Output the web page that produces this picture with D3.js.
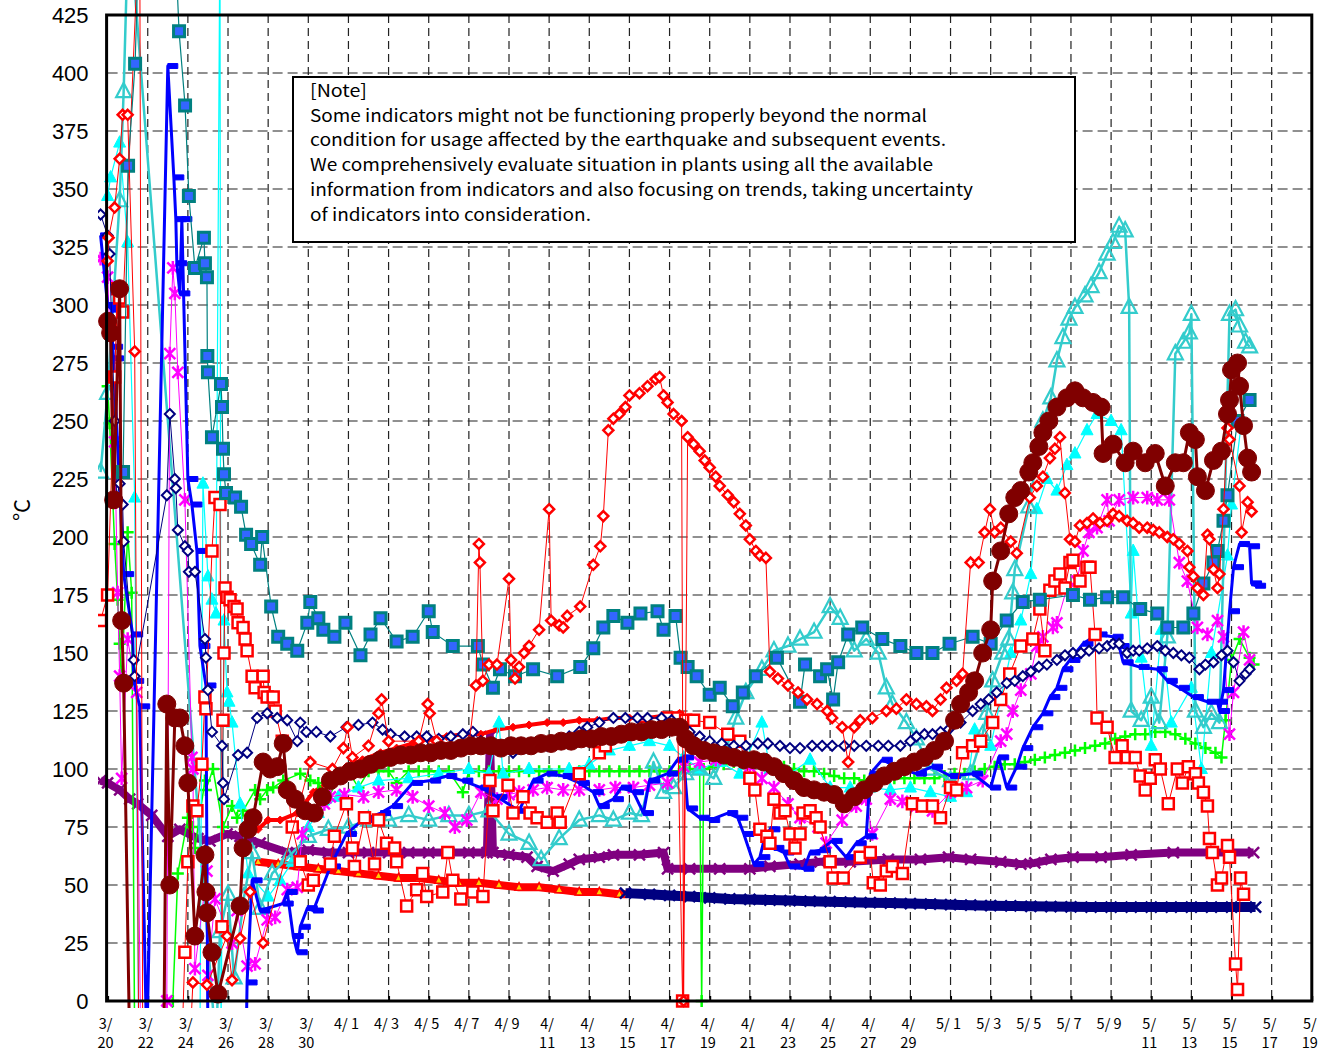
<!DOCTYPE html>
<html>
<head>
<meta charset="utf-8">
<title>Temperature trend</title>
<script src="https://cdn.jsdelivr.net/npm/d3@7"></script>
<style>
  body { margin: 0; background: #fff; }
  svg text { font-family: "Noto Sans CJK JP", "Noto Sans", sans-serif; fill: #000; }
</style>
</head>
<body>
<script>

// every point: [days after 3/20, temperature in °C]
const sqTeal = [[0.77,228],[1.02,360],[1.37,404],[1.6,470],[3.3,470],[3.56,418],[3.86,386],[4.05,347],[4.35,316],[4.8,329],[4.85,318],[4.95,312],[4.97,278],[5.0,271],[5.2,243],[5.65,266],[5.7,256],[5.75,238],[5.8,227],[5.9,219],[6.35,217],[6.65,213],[6.9,201],[7.15,197],[7.6,188],[7.7,200],[8.15,170],[8.5,157],[8.95,154],[9.45,151],[9.95,163],[10.1,172],[10.5,165],[10.75,160],[11.3,157],[11.85,163],[12.6,149],[13.1,158],[13.6,165],[14.4,155],[15.2,157],[16.0,168],[16.2,159],[17.2,153],[18.45,153],[18.7,145],[19.2,135],[19.55,143],[20.3,140],[21.2,143],[22.4,140],[23.55,144],[24.2,152],[24.7,161],[25.2,166],[25.9,163],[26.55,167],[27.4,168],[27.7,160],[28.3,166],[28.55,148],[28.9,144],[29.35,140],[30.0,132],[30.5,135],[31.15,127],[31.65,133],[32.3,140],[33.35,148],[34.5,129],[34.75,145],[35.5,140],[35.85,143],[36.15,130],[36.4,146],[36.9,158],[37.6,161],[38.6,156],[39.5,153],[40.3,150],[41.1,150],[41.95,154],[43.1,157],[44.0,154],[44.8,164],[45.6,172],[46.45,173],[48.1,175],[48.95,173],[49.8,174],[50.6,174],[51.45,169],[52.3,167],[52.8,161],[53.6,161],[54.1,167],[54.6,180],[55.1,189],[55.3,194],[55.6,207],[55.8,218],[56.3,250],[56.9,259]]

const triOpen = [[-0.35,228],[0,262],[0.6,345],[0.8,392],[1.05,470],[5.4,-20],[5.6,30],[6.0,46],[6.3,10],[6.8,45],[7.2,64],[7.6,40],[8.2,55],[9.0,62],[10.0,71],[11.0,74],[12.0,75],[13.0,78],[14.0,78],[15.0,80],[16.0,78],[17.0,80],[18.0,80],[19.0,82],[20.0,72],[21.0,68],[21.6,61],[22.5,70],[23.5,78],[24.5,80],[25.2,78],[26.0,81],[26.6,80],[27.2,103],[27.7,90],[28.2,92],[28.8,98],[29.5,100],[30.2,96],[30.8,108],[31.3,122],[31.8,133],[32.6,143],[33.2,151],[33.9,153],[34.5,156],[35.2,159],[36.0,170],[36.5,165],[37.2,151],[37.8,156],[38.4,150],[38.8,135],[39.1,128],[39.8,120],[40.3,113],[41.0,100],[42.0,95],[43.0,98],[43.6,115],[43.8,124],[44.1,138],[44.6,150],[44.9,156],[45.1,176],[45.2,186],[45.9,213],[46.6,250],[47.0,260],[47.3,276],[47.6,286],[47.9,294],[48.2,299],[48.7,304],[49.0,308],[49.4,314],[49.8,322],[50.1,327],[50.4,334],[50.7,332],[50.9,299],[51.0,125],[51.5,121],[52.0,131],[52.4,120],[52.8,157],[53.2,279],[53.6,284],[53.9,288],[54.0,296],[54.2,125],[54.6,118],[55.0,124],[55.4,120],[55.9,296],[56.2,298],[56.4,291],[56.7,284],[56.9,282]]

const triCyan = [[0,347],[0.15,355],[0.6,370],[1.0,327],[1.35,217],[1.55,-20],[4.6,-20],[4.75,223],[5.0,183],[5.2,173],[5.4,167],[5.6,470],[5.65,-20],[5.8,164],[5.95,133],[6.05,129],[6.2,120],[6.6,85],[7.0,55],[8.0,45],[8.6,52],[9.2,60],[10.0,75],[10.5,81],[11.5,88],[12.5,92],[13.5,95],[15,96],[16.5,98],[18,100],[19,98],[19.5,120],[19.7,98],[21,100],[23,100],[24,102],[25,108],[26,110],[27,112],[28,110],[28.7,105],[29.5,100],[30.5,103],[31.5,98],[32.6,120],[33,100],[34,98],[35,104],[36,92],[37,92],[38,92],[39,91],[40,92],[41,90],[42,88],[42.8,90],[43.2,117],[44,110],[44.5,130],[45,150],[45.5,164],[46,184],[46.3,212],[46.8,225],[47.3,220],[47.8,231],[48.2,236],[48.8,246],[49.3,253],[50,250],[50.5,246],[51,167],[51.1,194],[51.5,148],[52,110],[52.5,160],[53,120],[54,135],[54.5,100],[55,150],[55.8,192],[56,214],[56.5,250]]

const circRed = [[0,293],[0.15,288],[0.3,216],[0.6,307],[0.7,164],[0.8,137],[1.1,-20],[2.8,-20],[2.95,128],[3.1,50],[3.35,122],[3.6,122],[3.85,110],[4.0,94],[4.35,28],[4.85,63],[4.9,47],[4.95,38],[5.2,21],[5.5,3],[6.6,41],[6.75,66],[7.0,74],[7.25,79],[7.75,103],[8.1,100],[8.45,101],[8.75,111],[8.95,91],[9.35,87],[9.85,82],[10.3,81],[10.7,88],[11.1,95],[11.6,97],[12.1,99],[12.6,100],[13.1,102],[13.6,104],[14.1,105],[14.6,106],[15.1,106],[15.6,107],[16.1,107],[16.6,108],[17.1,108],[17.6,109],[18.1,110],[18.6,110],[19.1,110],[19.6,109],[20.1,110],[20.6,110],[21.1,110],[21.6,111],[22.1,111],[22.6,112],[23.1,112],[23.6,113],[24.1,113],[24.6,114],[25.1,114],[25.6,115],[26.1,116],[26.6,116],[27.1,117],[27.6,117],[28.1,118],[28.5,118],[28.8,113],[29.2,110],[29.7,108],[30.2,107],[30.7,106],[31.2,105],[31.7,104],[32.2,104],[32.7,103],[33.2,101],[33.7,98],[34.2,95],[34.7,92],[35.2,91],[35.7,90],[36.2,89],[36.7,85],[37.2,88],[37.7,91],[38.2,94],[38.7,97],[39.2,99],[39.7,101],[40.2,103],[40.7,105],[41.2,108],[41.7,112],[42.2,121],[42.5,128],[42.9,133],[43.2,138],[43.6,150],[44.0,160],[44.1,181],[44.5,194],[44.9,210],[45.2,217],[45.5,220],[45.9,228],[46.1,232],[46.4,239],[46.6,245],[46.9,250],[47.3,256],[47.8,260],[48.2,263],[48.6,260],[49.1,258],[49.5,256],[49.6,236],[50.1,240],[50.7,232],[51.1,237],[51.7,232],[52.2,236],[52.7,222],[53.2,232],[53.6,232],[53.9,245],[54.2,242],[54.3,226],[54.7,220],[55.1,233],[55.5,237],[55.8,253],[55.9,259],[56.0,272],[56.3,275],[56.4,265],[56.6,248],[56.8,234],[57.0,228]]

const diamNavy = [[-0.35,339],[0,330],[0.1,322],[0.35,250],[0.45,217],[0.6,223],[0.75,214],[0.8,198],[1.3,147],[1.35,140],[2.95,218],[3.1,253],[3.35,225],[3.4,221],[3.5,203],[3.85,196],[4.0,194],[4.05,185],[4.35,185],[4.85,156],[4.9,148],[5.0,134],[5.2,116],[5.7,110],[5.75,94],[5.8,87],[6.5,106],[6.95,107],[7.45,122],[7.95,124],[8.45,122],[8.95,121],[9.45,112],[9.6,120],[9.9,116],[10.4,116],[11.1,114],[11.9,118],[12.5,119],[13.2,120],[13.7,117],[14.1,115],[14.8,114],[15.4,114],[15.9,114],[16.0,107],[16.5,113],[17.1,114],[17.7,115],[18.2,116],[18.6,112],[19.2,111],[19.9,110],[20.2,107],[20.8,109],[21.3,110],[21.9,110],[22.5,112],[23.0,114],[23.5,116],[23.9,118],[24.5,120],[25.2,122],[25.8,122],[26.4,122],[26.9,122],[27.6,122],[28.1,121],[28.5,118],[29.0,116],[29.5,114],[30.0,112],[30.6,111],[31.2,110],[31.8,110],[32.4,111],[32.9,111],[33.5,110],[34.0,109],[34.5,109],[35.1,110],[35.6,110],[36.1,110],[36.7,110],[37.2,110],[37.8,110],[38.4,110],[38.9,110],[39.5,110],[40.0,112],[40.3,114],[40.7,115],[41.1,115],[41.5,116],[41.9,117],[42.5,120],[43.1,125],[43.5,128],[43.9,130],[44.3,133],[44.8,137],[45.2,138],[45.6,140],[46.0,142],[46.4,144],[46.8,145],[47.3,147],[47.7,149],[48.1,150],[48.5,150],[48.9,151],[49.4,152],[49.8,153],[50.1,154],[50.4,154],[50.8,150],[51.1,151],[51.4,151],[51.8,152],[52.3,153],[52.7,151],[53.1,150],[53.5,149],[53.9,148],[54.4,143],[54.7,145],[55.1,146],[55.5,149],[55.8,151],[56.1,146],[56.4,138],[56.7,141],[56.9,143]]

const triRed = [[7.5,60],[8.5,59],[9.5,58],[10.5,57],[11.5,56],[12.5,55],[13.5,54],[14.5,53],[15.5,53],[16.5,52],[17.5,51],[18.5,51],[19.5,50],[20.5,49],[21.5,49],[22.5,48],[23.5,47],[24.5,47],[25.5,46],[25.9,46]]

const xNavy = [[25.8,46.5],[27,46],[28,45.5],[29,45],[30,44.5],[31,44],[32,43.8],[33,43.5],[34,43.3],[35,43],[36,42.8],[37,42.6],[38,42.4],[39,42.2],[40,42],[41,41.8],[42,41.5],[43,41.3],[44,41.1],[45,41],[46,40.8],[47,40.7],[48,40.6],[49,40.5],[50,40.5],[51,40.5],[52,40.5],[53,40.5],[54,40.5],[55,40.5],[56,40.5],[57.2,40.5]]

const xPurple = [[-0.35,95],[0,94],[0.6,91],[1.1,87],[1.5,85],[2.2,80],[3.0,71],[3.6,74],[4.5,70],[5.1,69],[5.95,72],[6.6,71],[7.6,68],[8.95,64],[10,65],[11,64],[12,64],[13,64],[14,64],[15,64],[16,64],[17,64],[18,64],[18.9,64],[19.05,114],[19.2,64],[20,63],[20.9,62],[21.4,58],[22.2,56],[23,59],[23.5,61],[24.5,62],[25.2,63],[26.5,63],[27.7,64],[27.9,57],[29,57],[30.5,57],[32,57],[33,58],[34.5,59],[35.5,60],[37,60],[38.9,61],[40.5,61],[41.9,62],[43,61],[44.5,60],[45.5,59],[46.2,59.5],[47,61],[48.1,62],[49.5,62],[51,63],[53.1,64],[55,64],[57.1,64]]

const plusGreen = [[0,265],[0.1,249],[0.35,197],[0.5,173],[0.6,154],[0.7,137],[1.0,202],[1.2,176],[1.35,-20],[3.15,-20],[3.25,0],[3.5,55],[4.0,79],[4.25,75],[4.35,66],[4.85,95],[4.9,91],[5.25,100],[5.75,75],[6.2,84],[6.45,79],[6.75,82],[7.35,91],[7.6,87],[7.95,91],[8.25,92],[8.75,95],[9.6,98],[10.1,95],[10.5,94],[11.0,87],[11.5,97],[12.0,99],[12.5,92],[13.0,99],[13.5,99],[14.0,99],[14.4,94],[15.0,99],[15.5,99],[16.0,99],[16.5,99],[17.0,99],[17.7,90],[18.0,99],[18.5,99],[19,99],[19.5,99],[20,99],[20.5,99],[21,99],[21.5,99],[22,99],[22.5,99],[23,99],[23.5,99],[24,99],[24.5,99],[25,99],[25.5,99],[26,99],[26.5,99],[27,99],[27.5,99],[28,99],[28.5,99],[29,100],[29.5,100],[29.6,0],[29.7,100],[30.2,101],[30.7,102],[31.2,103],[31.7,104],[32.2,104],[32.7,103],[33.2,102],[33.7,101],[34.2,100],[34.7,99],[35.2,99],[35.7,98],[36.2,97],[36.7,96],[37.2,96],[37.7,95],[38.2,95],[38.7,96],[39.2,96],[39.7,96],[40.2,96],[40.7,96],[41.2,96],[41.7,97],[42.2,98],[42.7,98],[43.2,99],[43.7,100],[44.2,101],[44.7,102],[45.2,102],[45.7,103],[46.2,104],[46.7,105],[47.2,106],[47.7,107],[48.2,108],[48.7,109],[49.2,110],[49.7,111],[50.2,113],[50.7,114],[51.2,115],[51.7,115],[52.2,116],[52.7,116],[53.2,115],[53.7,113],[54.2,111],[54.7,109],[55.2,107],[55.5,105],[55.7,121],[56.0,147],[56.4,156],[56.9,148],[57.1,145]]

const starMag = [[-0.35,320],[0,312],[0.35,241],[0.5,176],[0.6,140],[0.7,96],[1.0,156],[1.45,133],[1.65,-20],[2.85,-20],[2.95,0],[3.1,279],[3.25,316],[3.35,305],[3.5,271],[3.85,216],[4.2,105],[4.25,100],[4.35,14],[4.95,56],[5.0,11],[5.35,44],[6.2,25],[6.45,39],[6.95,15],[7.35,16],[7.95,35],[8.35,36],[8.95,48],[9.45,49],[9.7,72],[10.3,81],[10.8,85],[11.1,88],[11.8,89],[12.75,88],[13.5,90],[14.4,91],[15.2,88],[16.0,84],[16.8,81],[17.3,75],[17.9,78],[18.6,90],[19.4,87],[20.0,89],[20.5,90],[21.2,91],[21.9,92],[22.7,91],[23.5,91],[24.5,91],[25.3,92],[26.2,92],[27.0,93],[27.9,94],[28.7,101],[29.5,103],[30.3,104],[31.2,104],[32.0,101],[32.6,96],[33.2,92],[33.9,85],[34.5,79],[35.4,75],[35.8,68],[36.6,78],[37.3,84],[37.8,87],[38.1,72],[39.0,87],[39.6,86],[40.3,84],[41.1,82],[42.0,90],[42.8,92],[43.6,95],[44.5,112],[44.8,115],[45.1,125],[45.5,134],[46.0,141],[46.3,153],[46.6,157],[47.1,161],[47.3,163],[47.8,178],[48.3,181],[48.6,194],[48.9,202],[49.3,204],[49.8,216],[49.9,207],[50.4,216],[51.1,217],[51.8,217],[52.3,216],[52.9,216],[53.4,189],[53.8,181],[54.3,161],[54.8,158],[55.3,164],[55.6,157],[55.9,115],[56.1,133],[56.6,159],[56.9,147]]

const dashBlue = [[-0.35,330],[0,300],[0.2,298],[0.25,282],[0.3,277],[0.8,184],[1.25,158],[1.3,138],[1.6,127],[1.95,-20],[3.0,403],[3.3,355],[3.4,337],[3.45,318],[3.6,305],[3.7,337],[4.0,225],[4.2,214],[4.45,194],[4.6,153],[4.9,136],[5.0,-20],[6.9,-20],[6.95,8],[7.2,52],[7.6,39],[8.75,42],[8.95,47],[9.25,28],[9.45,21],[9.6,32],[9.95,40],[10.25,39],[11.1,58],[11.9,72],[12.7,78],[13.6,81],[14.2,84],[15.2,94],[16.1,95],[16.9,97],[17.7,95],[18.6,92],[19.4,88],[20.5,82],[21.2,95],[21.9,98],[22.7,97],[23.5,94],[24.2,90],[24.5,84],[25.2,87],[25.6,92],[26.2,90],[26.7,81],[27.0,95],[27.9,98],[28.4,104],[28.7,105],[28.9,83],[29.5,79],[30.0,78],[30.9,81],[31.4,79],[31.7,72],[32.2,59],[32.5,62],[32.7,69],[33.0,74],[33.2,66],[33.7,64],[34.0,58],[34.7,57],[35.0,64],[35.5,65],[36.1,69],[36.8,62],[37.3,68],[37.8,71],[38.0,98],[38.6,104],[39.5,100],[40.3,98],[41.1,101],[42.0,97],[43.1,98],[44.0,92],[44.4,105],[44.8,92],[45.3,101],[45.6,109],[46.1,118],[46.6,124],[46.95,131],[47.3,135],[47.6,143],[47.95,147],[48.6,154],[49.3,158],[50.1,157],[50.4,153],[50.6,146],[51.4,144],[52.3,143],[52.8,138],[53.4,135],[54.1,131],[54.8,129],[55.3,129],[55.4,125],[55.6,134],[55.9,168],[56.1,187],[56.4,197],[56.9,196],[57.0,180],[57.2,179]]

const sqRed = [[-0.35,164],[0,175],[0.35,269],[0.5,307],[0.6,303],[0.75,297],[1.6,470],[1.75,-20],[3.7,-20],[3.85,21],[4.0,60],[4.25,84],[4.45,82],[4.7,102],[4.85,131],[4.9,126],[5.2,194],[5.35,217],[5.6,214],[5.7,32],[5.75,121],[5.8,150],[5.85,178],[5.95,174],[6.1,173],[6.3,170],[6.45,169],[6.5,163],[6.75,161],[6.85,156],[6.95,151],[7.2,140],[7.35,135],[7.75,140],[7.8,133],[7.95,131],[8.25,131],[8.35,125],[8.7,112],[9.2,75],[9.6,60],[10.0,50],[10.25,52],[11.1,59],[11.3,71],[11.9,85],[12.2,66],[12.3,58],[12.8,79],[13.3,59],[13.5,78],[13.9,68],[14.3,66],[14.4,60],[14.9,41],[15.4,48],[15.7,55],[15.9,45],[16.7,47],[16.95,64],[17.2,52],[17.6,44],[18.2,47],[18.7,45],[19.05,95],[19.2,82],[19.95,93],[20.2,81],[20.7,88],[21.05,81],[21.4,79],[21.9,77],[22.4,81],[22.55,77],[23.5,98],[24.5,107],[24.8,110],[25.3,114],[25.9,115],[26.7,118],[27.9,122],[28.4,122],[28.65,0],[28.8,121],[29.2,121],[30.0,120],[30.9,115],[31.5,112],[32.0,96],[32.25,91],[32.5,74],[32.85,71],[33.0,68],[33.2,87],[33.5,81],[33.75,82],[34.0,72],[34.25,66],[34.5,72],[34.65,81],[35.0,82],[35.3,79],[35.5,75],[36.0,60],[36.15,53],[36.65,53],[37.5,62],[38.0,64],[38.15,51],[38.5,50],[38.8,56],[39.1,58],[39.6,55],[40.1,85],[40.6,84],[41.1,84],[41.5,79],[42.0,92],[42.3,91],[42.6,107],[43.1,110],[43.5,112],[44.1,120],[44.5,130],[44.95,141],[45.5,153],[46.1,156],[46.45,169],[46.7,151],[46.95,177],[47.2,181],[47.45,184],[47.7,178],[47.95,189],[48.1,190],[48.45,181],[48.8,187],[48.95,187],[49.2,158],[49.3,122],[49.8,118],[50.2,105],[50.55,110],[50.8,105],[51.2,105],[51.45,97],[51.7,91],[51.95,96],[52.2,104],[52.45,100],[52.85,85],[53.3,100],[53.55,94],[53.85,101],[54.2,98],[54.35,94],[54.6,90],[54.8,84],[54.9,70],[55.05,64],[55.3,50],[55.5,53],[55.8,67],[55.9,62],[56.2,16],[56.3,5],[56.45,53],[56.6,46]]

const diamRed = [[0,319],[0.05,329],[0.35,342],[0.6,363],[0.75,382],[1.0,382],[1.35,280],[1.55,-20],[4.1,-20],[4.25,8],[4.95,7],[5.95,28],[6.2,9],[6.6,27],[7.1,47],[7.75,25],[10.1,103],[11.2,100],[11.75,109],[11.95,118],[12.2,105],[13.0,110],[13.5,124],[13.65,130],[14.0,112],[15.5,112],[15.95,128],[16.05,124],[16.4,112],[18.0,110],[18.35,136],[18.5,197],[18.55,189],[18.7,138],[19.0,145],[19.4,145],[20.0,182],[20.1,147],[20.3,139],[20.5,144],[20.75,150],[21.0,153],[21.5,160],[22.0,212],[22.1,164],[22.5,162],[22.7,161],[22.9,166],[23.55,170],[24.2,188],[24.55,196],[24.7,209],[24.95,246],[25.2,251],[25.5,253],[25.8,256],[26.0,261],[26.5,262],[26.9,265],[27.3,268],[27.5,269],[27.7,261],[27.9,258],[28.2,253],[28.6,250],[28.7,0],[28.9,243],[29.2,240],[29.5,237],[29.75,233],[30.0,230],[30.3,226],[30.5,222],[30.9,218],[31.2,215],[31.5,210],[31.8,205],[32.0,199],[32.3,194],[32.5,192],[32.8,191],[33.0,142],[33.4,139],[33.9,136],[34.4,133],[34.85,130],[35.35,128],[35.85,125],[36.1,122],[36.6,118],[36.9,103],[37.2,118],[37.5,121],[38.1,122],[38.8,125],[39.3,126],[39.8,130],[40.3,128],[40.8,127],[41.1,125],[41.5,130],[41.8,135],[42.3,138],[42.6,141],[43.0,189],[43.4,189],[43.7,202],[43.96,212],[44.2,202],[44.5,204],[45.0,198],[45.3,193],[45.95,217],[46.3,222],[46.6,226],[46.95,234],[47.2,238],[47.45,243],[47.7,219],[47.95,199],[48.2,198],[48.45,205],[48.8,206],[49.1,208],[49.45,206],[49.8,207],[50.1,210],[50.4,209],[50.8,207],[51.1,206],[51.4,204],[51.8,204],[52.1,203],[52.4,202],[52.8,200],[53.1,199],[53.4,197],[53.8,194],[53.9,187],[54.1,183],[54.3,178],[54.6,175],[54.8,201],[54.9,199],[55.1,186],[55.3,178],[55.4,184],[55.6,212],[55.8,247],[55.9,242],[56.4,222],[56.5,202],[56.8,215],[57.0,211]]

const lineRed = [[7.5,74],[8.0,78],[8.6,78],[9.45,81],[10.25,90],[11.1,95],[11.9,101],[12.7,104],[13.6,107],[14.4,109],[15.2,111],[16.0,113],[16.9,114],[17.7,115],[18.6,115],[19.4,117],[20.2,118],[21.0,119],[21.9,120],[22.7,120],[23.5,121],[24.4,121],[25.2,122],[26.0,122],[26.9,122],[27.7,123],[28.5,124]]

const xLabels = ['3/\n20','3/\n22','3/\n24','3/\n26','3/\n28','3/\n30','4/ 1','4/ 3','4/ 5','4/ 7','4/ 9',
  '4/\n11','4/\n13','4/\n15','4/\n17','4/\n19','4/\n21','4/\n23','4/\n25','4/\n27','4/\n29',
  '5/ 1','5/ 3','5/ 5','5/ 7','5/ 9','5/\n11','5/\n13','5/\n15','5/\n17','5/\n19']
const xTickDays = d3.range(0, 61, 2)
const yTicks = d3.range(0, 426, 25)
const noteLines = ['[Note]',
  'Some indicators might not be functioning properly beyond the normal',
  'condition for usage affected by the earthquake and subsequent events.',
  'We comprehensively evaluate situation in plants using all the available',
  'information from indicators and also focusing on trends, taking uncertainty',
  'of indicators into consideration.']

const plotL = 107.6, plotR = 1311.8, plotT = 15, plotB = 1001

const x = d3.scaleLinear().domain([0, 60]).range([plotL, plotR])
const y = d3.scaleLinear().domain([0, 425]).range([plotB, plotT])

const svg = d3.select('body').append('svg')
    .attr('width', 1321)
    .attr('height', 1053)

svg.append('defs').append('clipPath').attr('id', 'plotClip')
    .append('rect')
    .attr('x', 98).attr('y', 0)
    .attr('width', plotR - 98).attr('height', 1008)

// grid
const grid = svg.append('g').attr('class', 'grid')
grid.selectAll('line.h')
    .data(yTicks.filter(d => d > 0 && d < 425))
    .join('line')
    .attr('x1', plotL).attr('x2', plotR)
    .attr('y1', d => y(d)).attr('y2', d => y(d))
    .attr('stroke', '#222').attr('stroke-width', 1.2)
    .attr('stroke-dasharray', '10,5')

grid.selectAll('line.v')
    .data(xTickDays.filter(d => d > 0 && d < 60))
    .join('line')
    .attr('x1', d => x(d)).attr('x2', d => x(d))
    .attr('y1', plotT).attr('y2', plotB)
    .attr('stroke', '#222').attr('stroke-width', 1.2)
    .attr('stroke-dasharray', '8,5')

// axes
const yAxis = svg.append('g')
    .attr('transform', `translate(${plotL},0)`)
    .call(d3.axisLeft(y).tickValues(yTicks).tickSize(0).tickPadding(19))
yAxis.select('.domain').remove()
yAxis.selectAll('text')
    .style('font-family', '"Liberation Sans", Arial, sans-serif')
    .style('font-size', '22px')
    .attr('dy', '0.36em')

const xAxis = svg.append('g')
    .attr('transform', `translate(0,${plotB})`)
    .call(d3.axisBottom(x).tickValues(xTickDays).tickSize(-5).tickFormat(''))
xAxis.select('.domain').remove()
xAxis.selectAll('line').attr('stroke', '#000').attr('stroke-width', 2)

const xText = svg.append('g').selectAll('text')
    .data(xTickDays)
    .join('text')
    .attr('x', d => x(d) - 2)
    .attr('y', 1029)
    .attr('text-anchor', 'middle')
    .style('font-size', '14.5px')
    .style('white-space', 'pre')
xText.each(function (d, i) {
    const parts = xLabels[i].split('\n')
    d3.select(this).selectAll('tspan')
        .data(parts)
        .join('tspan')
        .attr('x', x(d) - 2)
        .attr('dy', (p, j) => j === 0 ? 0 : 19)
        .text(p => p)
})

svg.append('text')
    .attr('transform', 'translate(30,510) rotate(-90)')
    .attr('text-anchor', 'middle')
    .style('font-size', '22px')
    .text('°C')

// markers
function markerPath(type, s) {
    switch (type) {
        case 'square': return `M${-s},${-s}h${2 * s}v${2 * s}h${-2 * s}z`
        case 'tri': return `M0,${-s * 1.15}L${s},${s * 0.75}L${-s},${s * 0.75}z`
        case 'diamond': return `M0,${-s}L${s},0L0,${s}L${-s},0z`
        case 'circle': return `M${s},0A${s},${s} 0 1,1 ${-s},0A${s},${s} 0 1,1 ${s},0z`
        case 'plus': return `M${-s},0H${s}M0,${-s}V${s}`
        case 'x': return `M${-s},${-s}L${s},${s}M${-s},${s}L${s},${-s}`
        case 'star': return `M${-s},${-s}L${s},${s}M${-s},${s}L${s},${-s}M0,${-s * 1.25}V${s * 1.25}`
        case 'dash': return `M0,${-s / 2}h${s * 2}v${s}h${-s * 2}z`
    }
}

const series = [
    { data: xPurple, color: '#800080', lw: 8, mk: 'x', s: 5.5, fill: 'none', stroke: '#800080', sw: 2.5 },
    { data: triRed, color: '#ff0000', lw: 8, mk: 'tri', s: 4, fill: '#ffcc00', stroke: '#ff0000', sw: 1.5 },
    { data: xNavy, color: '#000080', lw: 10, mk: 'x', s: 5.5, fill: 'none', stroke: '#000080', sw: 2.5 },
    { data: lineRed, color: '#ff0000', lw: 4, mk: 'diamond', s: 4, fill: '#ff0000', stroke: '#ff0000', sw: 1 },
    { data: plusGreen, color: '#00ff00', lw: 1.5, mk: 'plus', s: 6, fill: 'none', stroke: '#00ff00', sw: 2.5 },
    { data: triCyan, color: '#00ffff', lw: 1.2, mk: 'tri', s: 6, fill: '#00ffff', stroke: '#00ffff', sw: 1 },
    { data: triOpen, color: '#33cccc', lw: 2.5, mk: 'tri', s: 7.5, fill: 'none', stroke: '#33cccc', sw: 2.2 },
    { data: starMag, color: '#ff00ff', lw: 1, mk: 'star', s: 5.5, fill: 'none', stroke: '#ff00ff', sw: 2.5 },
    { data: dashBlue, color: '#0000ff', lw: 3, mk: 'dash', s: 5, fill: '#0000ff', stroke: '#0000ff', sw: 1 },
    { data: sqRed, color: '#ff0000', lw: 1, mk: 'square', s: 5.5, fill: '#ffffff', stroke: '#ff0000', sw: 2.5 },
    { data: diamNavy, color: '#000080', lw: 1, mk: 'diamond', s: 5, fill: '#ffffff', stroke: '#000080', sw: 2 },
    { data: sqTeal, color: '#008080', lw: 1.2, mk: 'square', s: 5.5, fill: '#3366ff', stroke: '#008080', sw: 3 },
    { data: diamRed, color: '#ff0000', lw: 1, mk: 'diamond', s: 5, fill: '#ffffff', stroke: '#ff0000', sw: 2.5 },
    { data: circRed, color: '#800000', lw: 3, mk: 'circle', s: 9, fill: '#800000', stroke: '#800000', sw: 1 }
]

const line = d3.line()
    .x(d => x(d[0]))
    .y(d => y(d[1]))

const plot = svg.append('g').attr('clip-path', 'url(#plotClip)')

series.forEach(function (sr) {
    const g = plot.append('g')
    g.append('path')
        .datum(sr.data)
        .attr('d', line)
        .attr('fill', 'none')
        .attr('stroke', sr.color)
        .attr('stroke-width', sr.lw)
        .attr('stroke-linejoin', 'round')
    g.selectAll('path.mk')
        .data(sr.data)
        .join('path')
        .attr('class', 'mk')
        .attr('transform', d => `translate(${x(d[0])},${y(d[1])})`)
        .attr('d', markerPath(sr.mk, sr.s))
        .attr('fill', sr.fill)
        .attr('stroke', sr.stroke)
        .attr('stroke-width', sr.sw)
})

// plot border
svg.append('rect')
    .attr('x', plotL - 1).attr('y', plotT)
    .attr('width', plotR - plotL + 1).attr('height', plotB - plotT)
    .attr('fill', 'none')
    .attr('stroke', '#000')
    .attr('stroke-width', 3)

// note box
const note = svg.append('g')
note.append('rect')
    .attr('x', 293).attr('y', 77)
    .attr('width', 782).attr('height', 165)
    .attr('fill', '#fff')
    .attr('stroke', '#000')
    .attr('stroke-width', 2)

const noteWidths = [57, 617, 636, 623, 663, 281]
note.selectAll('text')
    .data(noteLines)
    .join('text')
    .attr('x', 310)
    .attr('y', (d, i) => 97 + i * 24.7)
    .attr('textLength', (d, i) => noteWidths[i])
    .attr('lengthAdjust', 'spacingAndGlyphs')
    .style('font-size', '17px')
    .text(d => d)

</script>
</body>
</html>
